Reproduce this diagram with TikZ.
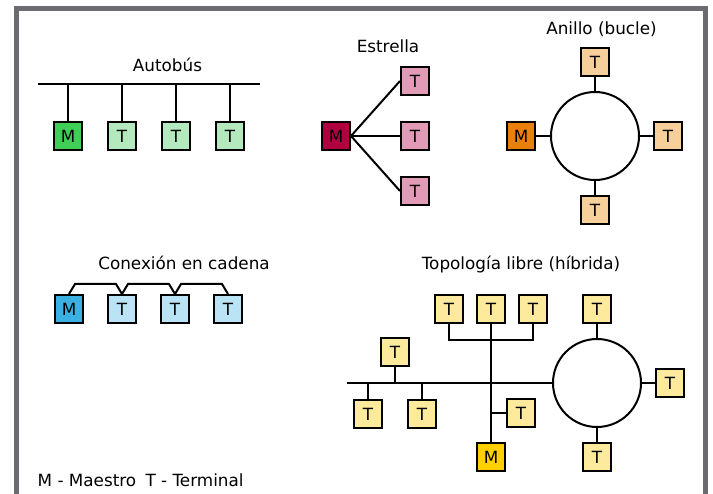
\documentclass[tikz,border=0pt]{standalone}
\usepackage{fontspec}
\setmainfont{DejaVu Sans}
\usetikzlibrary{calc}
\definecolor{busM}{HTML}{3FCF56}
\definecolor{busT}{HTML}{B4E9BE}
\definecolor{starM}{HTML}{B0003F}
\definecolor{starT}{HTML}{E29BB6}
\definecolor{ringM}{HTML}{E8800A}
\definecolor{ringT}{HTML}{F6CF9A}
\definecolor{chainM}{HTML}{3AB1E2}
\definecolor{chainT}{HTML}{BAE4F5}
\definecolor{freeM}{HTML}{FFCF00}
\definecolor{freeT}{HTML}{FDEA9C}
\definecolor{framegray}{HTML}{6B6B70}
\tikzset{
  box/.style={draw, line width=2, minimum size=28, inner sep=0, font=\fontsize{16.8}{19}\selectfont},
  title/.style={anchor=base, inner sep=0, font=\fontsize{16.8}{19}\selectfont},
  ring/.style={draw, circle, line width=2, minimum size=88, inner sep=0},
  wire/.style={line width=2}
}
\begin{document}
\begin{tikzpicture}[x=1pt, y=-1pt]
    \useasboundingbox (0,0) rectangle (713,494);
    \draw[framegray, line width=5] (16,494) -- (16,8.5) -- (705.5,8.5) -- (705.5,494);

    \node[title] (tbus) at (167.5, 71.7) {Autobús};
    \coordinate (bl) at (38, 84);
    \coordinate (br) at (260, 84);
    \node[box, fill=busM] (bm) at (68, 136) {M};
    \node[box, fill=busT] (bt1) at (122, 136) {T};
    \node[box, fill=busT] (bt2) at (176, 136) {T};
    \node[box, fill=busT] (bt3) at (230, 136) {T};
    \draw[wire] (bl) -- (br);
    \draw[wire] (bm) -- (bm |- bl);
    \draw[wire] (bt1) -- (bt1 |- bl);
    \draw[wire] (bt2) -- (bt2 |- bl);
    \draw[wire] (bt3) -- (bt3 |- bl);

    \node[title] (tstar) at (388, 52.7) {Estrella};
    \node[box, fill=starM] (sm) at (336, 136) {M};
    \node[box, fill=starT] (st1) at (415, 81) {T};
    \node[box, fill=starT] (st2) at (415, 136) {T};
    \node[box, fill=starT] (st3) at (415, 191) {T};
    \draw[wire] (sm.east) -- (st1.west);
    \draw[wire] (sm.east) -- (st2.west);
    \draw[wire] (sm.east) -- (st3.west);

    \node[title] (tring) at (601.5, 35) {Anillo (bucle)};
    \node[ring] (rc) at (595, 136) {};
    \node[box, fill=ringM] (rm) at (521, 136) {M};
    \node[box, fill=ringT] (rt1) at (595, 62) {T};
    \node[box, fill=ringT] (rt2) at (668, 136) {T};
    \node[box, fill=ringT] (rt3) at (595, 210) {T};
    \draw[wire] (rm) -- (rc);
    \draw[wire] (rt1) -- (rc);
    \draw[wire] (rt2) -- (rc);
    \draw[wire] (rt3) -- (rc);

    \node[title] (tchain) at (184, 270) {Conexión en cadena};
    \node[box, fill=chainM] (cm) at (69, 309) {M};
    \node[box, fill=chainT] (ct1) at (122, 309) {T};
    \node[box, fill=chainT] (ct2) at (175, 309) {T};
    \node[box, fill=chainT] (ct3) at (228, 309) {T};
    \draw[wire] (cm.north) -- ++(6,-10) -- ($(ct1.north)+(-6,-10)$) -- (ct1.north);
    \draw[wire] (ct1.north) -- ++(6,-10) -- ($(ct2.north)+(-6,-10)$) -- (ct2.north);
    \draw[wire] (ct2.north) -- ++(6,-10) -- ($(ct3.north)+(-6,-10)$) -- (ct3.north);

    \node[title] (tfree) at (521, 270) {Topología libre (híbrida)};
    \coordinate (hl) at (347, 383);
    \node[ring] (hc) at (597, 383) {};
    \node[box, fill=freeM] (hm) at (491, 457) {M};
    \node[box, fill=freeT] (ht1) at (449, 309) {T};
    \node[box, fill=freeT] (ht2) at (491, 309) {T};
    \node[box, fill=freeT] (ht3) at (533, 309) {T};
    \node[box, fill=freeT] (hu) at (395, 352) {T};
    \node[box, fill=freeT] (hd1) at (368, 414) {T};
    \node[box, fill=freeT] (hd2) at (422, 414) {T};
    \node[box, fill=freeT] (hb) at (521, 413) {T};
    \node[box, fill=freeT] (hr1) at (597, 309) {T};
    \node[box, fill=freeT] (hr2) at (670, 383) {T};
    \node[box, fill=freeT] (hr3) at (597, 457) {T};
    \draw[wire] (hl) -- (hc);
    \draw[wire] (ht2) -- (hm);
    \draw[wire] (ht1.south) -- ++(0,16) -| (ht3.south);
    \draw[wire] (hu) -- (hu |- hl);
    \draw[wire] (hd1) -- (hd1 |- hl);
    \draw[wire] (hd2) -- (hd2 |- hl);
    \draw[wire] (hb) -- (hb -| ht2);
    \draw[wire] (hr1) -- (hc);
    \draw[wire] (hr2) -- (hc);
    \draw[wire] (hr3) -- (hc);

    \node[title, anchor=base west] (legend) at (37.5, 486.5) {M - Maestro\hspace{4pt} T - Terminal};
\end{tikzpicture}
\end{document}
